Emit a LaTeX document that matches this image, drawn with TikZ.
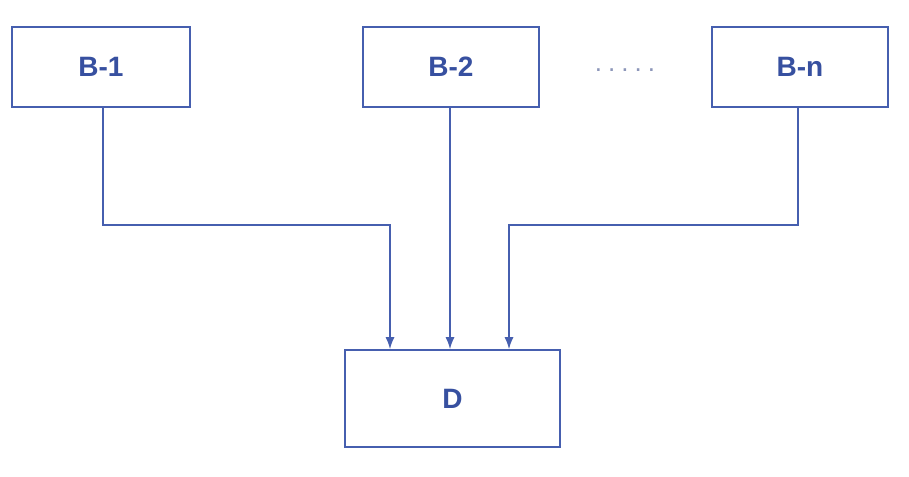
\documentclass[tikz,border=0pt]{standalone}
\usepackage{fontspec}
\setmainfont{Liberation Sans}
\usetikzlibrary{arrows.meta}
\definecolor{lineblue}{RGB}{70,95,175}
\definecolor{textblue}{RGB}{55,80,160}
\definecolor{dotgray}{RGB}{140,150,185}
\tikzset{
  blk/.style={draw=lineblue, line width=1.6pt, fill=white, inner sep=0pt, text=textblue, font=\fontsize{28}{34}\selectfont\bfseries},
  conn/.style={draw=lineblue, line width=1.5pt, -{Latex[length=12pt,width=9pt]}}
}
\begin{document}
\begin{tikzpicture}[x=1pt,y=-1pt]
\useasboundingbox (0,0) rectangle (909,476);
\fill[white] (0,0) rectangle (909,476);
\node[blk, minimum width=178pt, minimum height=80pt] (b1) at (101,67) {B-1};
\node[blk, minimum width=176pt, minimum height=80pt] (b2) at (451,67) {B-2};
\node[blk, minimum width=176pt, minimum height=80pt] (bn) at (800,67) {B-n};
\node[blk, minimum width=215pt, minimum height=97pt] (d) at (452.5,398.5) {D};
\node[text=dotgray, font=\fontsize{26}{30}\selectfont] (dots) at (625,70) {.\hspace{6pt}.\hspace{6pt}.\hspace{6pt}.\hspace{6pt}.};
\coordinate (k1) at (103,225);
\coordinate (kn) at (798,225);
\draw[conn] (b1.south -| k1) -- (k1) -| ([xshift=-62.5pt]d.north);
\draw[conn] (b2.south -| 450,0) -- (d.north -| 450,0);
\draw[conn] (bn.south -| kn) -- (kn) -| ([xshift=56.5pt]d.north);
\end{tikzpicture}
\end{document}
